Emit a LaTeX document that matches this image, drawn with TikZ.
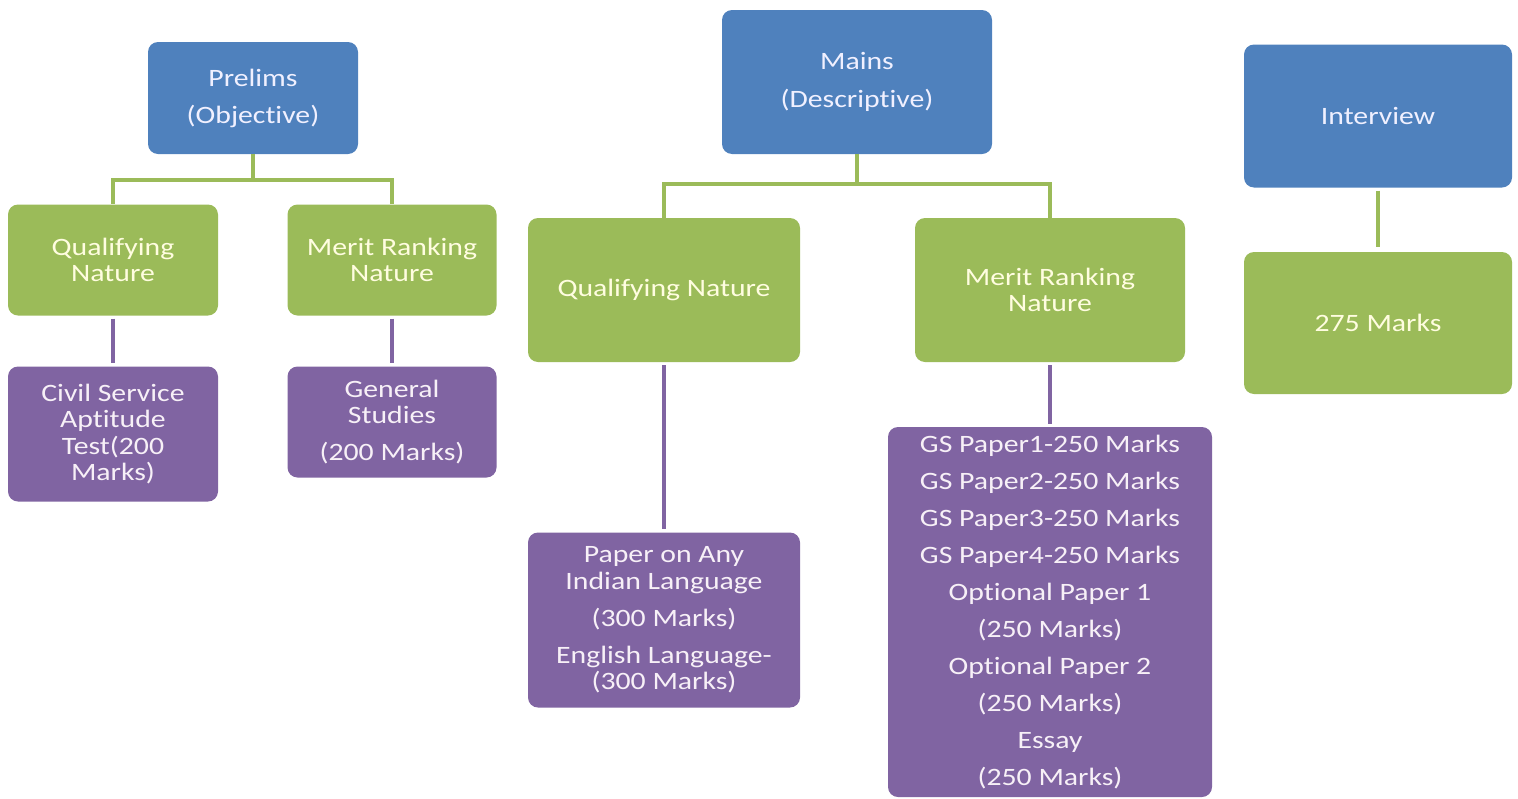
\documentclass[tikz,border=0pt]{standalone}
\usepackage{fontspec}
\setmainfont[FakeStretch=1.19, Ligatures={NoCommon}]{Carlito}
\definecolor{boxblue}{HTML}{4F81BD}
\definecolor{boxgreen}{HTML}{9BBB59}
\definecolor{boxpurple}{HTML}{8064A2}
\tikzset{
  box/.style={rounded corners=10pt, align=center, inner sep=0pt,
    font=\fontsize{25}{26.5}\selectfont},
  stage/.style={box, fill=boxblue, text=blue!6!white},
  nature/.style={box, fill=boxgreen, text=yellow!12!white},
  paper/.style={box, fill=boxpurple, text=violet!6!white},
  gline/.style={draw=boxgreen, line width=3.5pt},
  pline/.style={draw=boxpurple, line width=3.5pt, shorten <=3pt, shorten >=3pt},
}
\begin{document}
\begin{tikzpicture}[x=1pt, y=-1pt]
        \useasboundingbox (0, 0) rectangle (1518, 798);
        % top row
        \node[stage, minimum width=210pt, minimum height=112pt] (prelims) at (253, 98) {Prelims\\[10.5pt](Objective)};
        \node[stage, minimum width=270pt, minimum height=144pt] (mains) at (857, 82) {Mains\\[11.5pt](Descriptive)};
        \node[stage, minimum width=268pt, minimum height=143pt] (interview) at (1378, 116) {Interview};
        % nature
        \node[nature, minimum width=210pt, minimum height=111pt] (pqual) at (113, 260) {Qualifying\\Nature};
        \node[nature, minimum width=209pt, minimum height=111pt] (pmerit) at (392, 260) {Merit Ranking\\Nature};
        \node[nature, minimum width=272pt, minimum height=144pt] (mqual) at (664, 290) {Qualifying Nature};
        \node[nature, minimum width=270pt, minimum height=144pt] (mmerit) at (1050, 290) {Merit Ranking\\Nature};
        \node[nature, minimum width=268pt, minimum height=142pt] (marks) at (1378, 323) {275 Marks};
        % papers
        \node[paper, minimum width=210pt, minimum height=135pt] (csat) at (113, 434) {Civil Service\\Aptitude\\Test(200\\Marks)};
        \node[paper, minimum width=209pt, minimum height=111pt] (gs) at (392, 422) {General\\Studies\\[10.5pt](200 Marks)};
        \node[paper, minimum width=272pt, minimum height=175pt] (lang) at (664, 620) {Paper on Any\\Indian Language\\[10.5pt](300 Marks)\\[10.5pt]English Language-\\(300 Marks)};
        \node[paper, minimum width=324pt, minimum height=370pt] (gspapers) at (1050, 612)
            {GS Paper1-250 Marks\\[10.5pt]GS Paper2-250 Marks\\[10.5pt]GS Paper3-250 Marks\\[10.5pt]GS Paper4-250 Marks\\[10.5pt]Optional Paper 1\\[10.5pt](250 Marks)\\[10.5pt]Optional Paper 2\\[10.5pt](250 Marks)\\[10.5pt]Essay\\[10.5pt](250 Marks)};
        % connectors
        \draw[gline] (prelims.south) -- ++(0, 26) -| (pqual.north);
        \draw[gline] (prelims.south) -- ++(0, 26) -| (pmerit.north);
        \draw[gline] (mains.south) -- ++(0, 30) -| (mqual.north);
        \draw[gline] (mains.south) -- ++(0, 30) -| (mmerit.north);
        \draw[gline, shorten <=3pt, shorten >=5pt] (interview) -- (marks);
        \draw[pline] (pqual) -- (csat);
        \draw[pline] (pmerit) -- (gs);
        \draw[pline] (mqual) -- (lang);
        \draw[pline] (mmerit) -- (gspapers);
\end{tikzpicture}
\end{document}
